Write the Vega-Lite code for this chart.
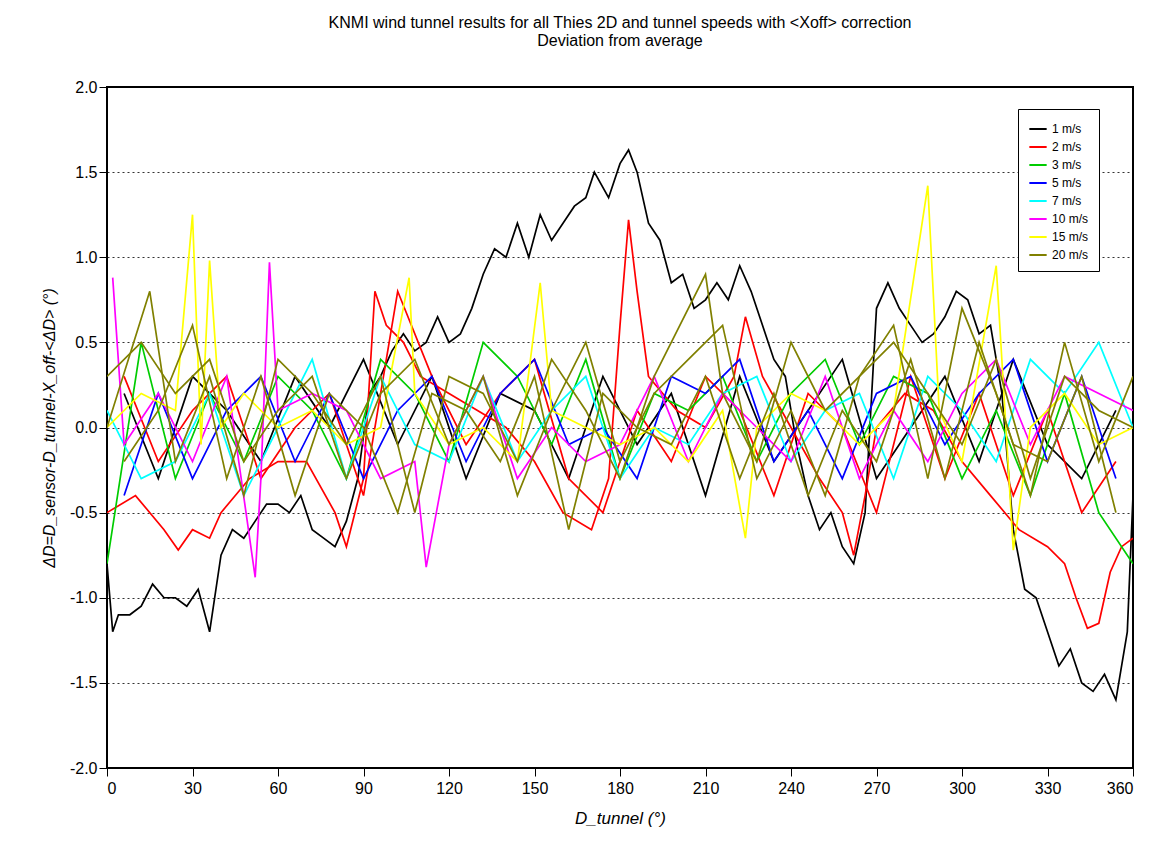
{
"$schema":"https://vega.github.io/schema/vega-lite/v6.json",
"width":1026,"height":681,"autosize":"none",
"padding":{"left":107,"top":87,"right":20,"bottom":91},
"title":{"text":["KNMI wind tunnel results for all Thies 2D and tunnel speeds with <Xoff> correction","Deviation from average"],"font":"Liberation Sans","fontSize":16,"fontWeight":"normal","offset":30},
"data":{"values":[
{"s":"k1","v":"1 m/s","x":0,"y":-0.8},{"s":"k1","v":"1 m/s","x":2,"y":-1.2},{"s":"k1","v":"1 m/s","x":4,"y":-1.1},{"s":"k1","v":"1 m/s","x":8,"y":-1.1},{"s":"k1","v":"1 m/s","x":12,"y":-1.05},{"s":"k1","v":"1 m/s","x":16,"y":-0.92},{"s":"k1","v":"1 m/s","x":20,"y":-1.0},{"s":"k1","v":"1 m/s","x":24,"y":-1.0},{"s":"k1","v":"1 m/s","x":28,"y":-1.05},{"s":"k1","v":"1 m/s","x":32,"y":-0.95},{"s":"k1","v":"1 m/s","x":36,"y":-1.2},{"s":"k1","v":"1 m/s","x":40,"y":-0.75},{"s":"k1","v":"1 m/s","x":44,"y":-0.6},{"s":"k1","v":"1 m/s","x":48,"y":-0.65},{"s":"k1","v":"1 m/s","x":52,"y":-0.55},{"s":"k1","v":"1 m/s","x":56,"y":-0.45},{"s":"k1","v":"1 m/s","x":60,"y":-0.45},{"s":"k1","v":"1 m/s","x":64,"y":-0.5},{"s":"k1","v":"1 m/s","x":68,"y":-0.4},{"s":"k1","v":"1 m/s","x":72,"y":-0.6},{"s":"k1","v":"1 m/s","x":76,"y":-0.65},{"s":"k1","v":"1 m/s","x":80,"y":-0.7},{"s":"k1","v":"1 m/s","x":84,"y":-0.55},{"s":"k1","v":"1 m/s","x":88,"y":-0.3},{"s":"k1","v":"1 m/s","x":92,"y":0.2},{"s":"k1","v":"1 m/s","x":96,"y":0.3},{"s":"k1","v":"1 m/s","x":100,"y":0.45},{"s":"k1","v":"1 m/s","x":104,"y":0.55},{"s":"k1","v":"1 m/s","x":108,"y":0.45},{"s":"k1","v":"1 m/s","x":112,"y":0.5},{"s":"k1","v":"1 m/s","x":116,"y":0.65},{"s":"k1","v":"1 m/s","x":120,"y":0.5},{"s":"k1","v":"1 m/s","x":124,"y":0.55},{"s":"k1","v":"1 m/s","x":128,"y":0.7},{"s":"k1","v":"1 m/s","x":132,"y":0.9},{"s":"k1","v":"1 m/s","x":136,"y":1.05},{"s":"k1","v":"1 m/s","x":140,"y":1.0},{"s":"k1","v":"1 m/s","x":144,"y":1.2},{"s":"k1","v":"1 m/s","x":148,"y":1.0},{"s":"k1","v":"1 m/s","x":152,"y":1.25},{"s":"k1","v":"1 m/s","x":156,"y":1.1},{"s":"k1","v":"1 m/s","x":160,"y":1.2},{"s":"k1","v":"1 m/s","x":164,"y":1.3},{"s":"k1","v":"1 m/s","x":168,"y":1.35},{"s":"k1","v":"1 m/s","x":171,"y":1.5},{"s":"k1","v":"1 m/s","x":176,"y":1.35},{"s":"k1","v":"1 m/s","x":180,"y":1.55},{"s":"k1","v":"1 m/s","x":183,"y":1.63},{"s":"k1","v":"1 m/s","x":186,"y":1.5},{"s":"k1","v":"1 m/s","x":190,"y":1.2},{"s":"k1","v":"1 m/s","x":194,"y":1.1},{"s":"k1","v":"1 m/s","x":198,"y":0.85},{"s":"k1","v":"1 m/s","x":202,"y":0.9},{"s":"k1","v":"1 m/s","x":206,"y":0.7},{"s":"k1","v":"1 m/s","x":210,"y":0.75},{"s":"k1","v":"1 m/s","x":214,"y":0.85},{"s":"k1","v":"1 m/s","x":218,"y":0.75},{"s":"k1","v":"1 m/s","x":222,"y":0.95},{"s":"k1","v":"1 m/s","x":226,"y":0.8},{"s":"k1","v":"1 m/s","x":230,"y":0.6},{"s":"k1","v":"1 m/s","x":234,"y":0.4},{"s":"k1","v":"1 m/s","x":238,"y":0.3},{"s":"k1","v":"1 m/s","x":242,"y":-0.1},{"s":"k1","v":"1 m/s","x":246,"y":-0.4},{"s":"k1","v":"1 m/s","x":250,"y":-0.6},{"s":"k1","v":"1 m/s","x":254,"y":-0.5},{"s":"k1","v":"1 m/s","x":258,"y":-0.7},{"s":"k1","v":"1 m/s","x":262,"y":-0.8},{"s":"k1","v":"1 m/s","x":266,"y":-0.5},{"s":"k1","v":"1 m/s","x":270,"y":0.7},{"s":"k1","v":"1 m/s","x":274,"y":0.85},{"s":"k1","v":"1 m/s","x":278,"y":0.7},{"s":"k1","v":"1 m/s","x":282,"y":0.6},{"s":"k1","v":"1 m/s","x":286,"y":0.5},{"s":"k1","v":"1 m/s","x":290,"y":0.55},{"s":"k1","v":"1 m/s","x":294,"y":0.65},{"s":"k1","v":"1 m/s","x":298,"y":0.8},{"s":"k1","v":"1 m/s","x":302,"y":0.75},{"s":"k1","v":"1 m/s","x":306,"y":0.55},{"s":"k1","v":"1 m/s","x":310,"y":0.6},{"s":"k1","v":"1 m/s","x":314,"y":0.2},{"s":"k1","v":"1 m/s","x":318,"y":-0.6},{"s":"k1","v":"1 m/s","x":322,"y":-0.95},{"s":"k1","v":"1 m/s","x":326,"y":-1.0},{"s":"k1","v":"1 m/s","x":330,"y":-1.2},{"s":"k1","v":"1 m/s","x":334,"y":-1.4},{"s":"k1","v":"1 m/s","x":338,"y":-1.3},{"s":"k1","v":"1 m/s","x":342,"y":-1.5},{"s":"k1","v":"1 m/s","x":346,"y":-1.55},{"s":"k1","v":"1 m/s","x":350,"y":-1.45},{"s":"k1","v":"1 m/s","x":354,"y":-1.6},{"s":"k1","v":"1 m/s","x":358,"y":-1.2},{"s":"k1","v":"1 m/s","x":360,"y":-0.4},
{"s":"k2","v":"1 m/s","x":6,"y":0.2},{"s":"k2","v":"1 m/s","x":18,"y":-0.3},{"s":"k2","v":"1 m/s","x":30,"y":0.3},{"s":"k2","v":"1 m/s","x":42,"y":0.1},{"s":"k2","v":"1 m/s","x":54,"y":-0.2},{"s":"k2","v":"1 m/s","x":66,"y":0.3},{"s":"k2","v":"1 m/s","x":78,"y":0.0},{"s":"k2","v":"1 m/s","x":90,"y":0.4},{"s":"k2","v":"1 m/s","x":102,"y":-0.1},{"s":"k2","v":"1 m/s","x":114,"y":0.3},{"s":"k2","v":"1 m/s","x":126,"y":-0.3},{"s":"k2","v":"1 m/s","x":138,"y":0.2},{"s":"k2","v":"1 m/s","x":150,"y":0.1},{"s":"k2","v":"1 m/s","x":162,"y":-0.3},{"s":"k2","v":"1 m/s","x":174,"y":0.3},{"s":"k2","v":"1 m/s","x":186,"y":-0.1},{"s":"k2","v":"1 m/s","x":198,"y":0.2},{"s":"k2","v":"1 m/s","x":210,"y":-0.4},{"s":"k2","v":"1 m/s","x":222,"y":0.3},{"s":"k2","v":"1 m/s","x":234,"y":-0.2},{"s":"k2","v":"1 m/s","x":246,"y":0.1},{"s":"k2","v":"1 m/s","x":258,"y":0.4},{"s":"k2","v":"1 m/s","x":270,"y":-0.3},{"s":"k2","v":"1 m/s","x":282,"y":0.0},{"s":"k2","v":"1 m/s","x":294,"y":0.3},{"s":"k2","v":"1 m/s","x":306,"y":-0.2},{"s":"k2","v":"1 m/s","x":318,"y":0.4},{"s":"k2","v":"1 m/s","x":330,"y":-0.1},{"s":"k2","v":"1 m/s","x":342,"y":-0.3},{"s":"k2","v":"1 m/s","x":354,"y":0.1},
{"s":"r1","v":"2 m/s","x":0,"y":-0.5},{"s":"r1","v":"2 m/s","x":10,"y":-0.4},{"s":"r1","v":"2 m/s","x":20,"y":-0.6},{"s":"r1","v":"2 m/s","x":25,"y":-0.72},{"s":"r1","v":"2 m/s","x":30,"y":-0.6},{"s":"r1","v":"2 m/s","x":36,"y":-0.65},{"s":"r1","v":"2 m/s","x":40,"y":-0.5},{"s":"r1","v":"2 m/s","x":50,"y":-0.3},{"s":"r1","v":"2 m/s","x":60,"y":-0.2},{"s":"r1","v":"2 m/s","x":70,"y":-0.2},{"s":"r1","v":"2 m/s","x":80,"y":-0.5},{"s":"r1","v":"2 m/s","x":84,"y":-0.7},{"s":"r1","v":"2 m/s","x":90,"y":-0.3},{"s":"r1","v":"2 m/s","x":94,"y":0.8},{"s":"r1","v":"2 m/s","x":98,"y":0.6},{"s":"r1","v":"2 m/s","x":104,"y":0.5},{"s":"r1","v":"2 m/s","x":110,"y":0.3},{"s":"r1","v":"2 m/s","x":120,"y":0.2},{"s":"r1","v":"2 m/s","x":130,"y":0.1},{"s":"r1","v":"2 m/s","x":140,"y":0.0},{"s":"r1","v":"2 m/s","x":150,"y":-0.2},{"s":"r1","v":"2 m/s","x":160,"y":-0.5},{"s":"r1","v":"2 m/s","x":170,"y":-0.6},{"s":"r1","v":"2 m/s","x":176,"y":-0.3},{"s":"r1","v":"2 m/s","x":180,"y":0.6},{"s":"r1","v":"2 m/s","x":183,"y":1.22},{"s":"r1","v":"2 m/s","x":186,"y":0.8},{"s":"r1","v":"2 m/s","x":190,"y":0.3},{"s":"r1","v":"2 m/s","x":200,"y":0.1},{"s":"r1","v":"2 m/s","x":210,"y":0.0},{"s":"r1","v":"2 m/s","x":220,"y":0.3},{"s":"r1","v":"2 m/s","x":224,"y":0.65},{"s":"r1","v":"2 m/s","x":230,"y":0.3},{"s":"r1","v":"2 m/s","x":240,"y":0.0},{"s":"r1","v":"2 m/s","x":250,"y":-0.3},{"s":"r1","v":"2 m/s","x":258,"y":-0.5},{"s":"r1","v":"2 m/s","x":262,"y":-0.75},{"s":"r1","v":"2 m/s","x":266,"y":-0.4},{"s":"r1","v":"2 m/s","x":270,"y":0.0},{"s":"r1","v":"2 m/s","x":280,"y":0.2},{"s":"r1","v":"2 m/s","x":290,"y":0.1},{"s":"r1","v":"2 m/s","x":300,"y":-0.2},{"s":"r1","v":"2 m/s","x":310,"y":-0.4},{"s":"r1","v":"2 m/s","x":320,"y":-0.6},{"s":"r1","v":"2 m/s","x":330,"y":-0.7},{"s":"r1","v":"2 m/s","x":336,"y":-0.8},{"s":"r1","v":"2 m/s","x":340,"y":-1.0},{"s":"r1","v":"2 m/s","x":344,"y":-1.18},{"s":"r1","v":"2 m/s","x":348,"y":-1.15},{"s":"r1","v":"2 m/s","x":352,"y":-0.85},{"s":"r1","v":"2 m/s","x":356,"y":-0.7},{"s":"r1","v":"2 m/s","x":360,"y":-0.65},
{"s":"r2","v":"2 m/s","x":6,"y":0.3},{"s":"r2","v":"2 m/s","x":18,"y":-0.2},{"s":"r2","v":"2 m/s","x":30,"y":0.1},{"s":"r2","v":"2 m/s","x":42,"y":0.3},{"s":"r2","v":"2 m/s","x":54,"y":-0.3},{"s":"r2","v":"2 m/s","x":66,"y":0.0},{"s":"r2","v":"2 m/s","x":78,"y":0.2},{"s":"r2","v":"2 m/s","x":90,"y":-0.4},{"s":"r2","v":"2 m/s","x":102,"y":0.8},{"s":"r2","v":"2 m/s","x":114,"y":0.3},{"s":"r2","v":"2 m/s","x":126,"y":-0.1},{"s":"r2","v":"2 m/s","x":138,"y":0.2},{"s":"r2","v":"2 m/s","x":150,"y":0.4},{"s":"r2","v":"2 m/s","x":162,"y":-0.3},{"s":"r2","v":"2 m/s","x":174,"y":-0.5},{"s":"r2","v":"2 m/s","x":186,"y":0.1},{"s":"r2","v":"2 m/s","x":198,"y":-0.2},{"s":"r2","v":"2 m/s","x":210,"y":0.3},{"s":"r2","v":"2 m/s","x":222,"y":0.1},{"s":"r2","v":"2 m/s","x":234,"y":-0.4},{"s":"r2","v":"2 m/s","x":246,"y":0.2},{"s":"r2","v":"2 m/s","x":258,"y":0.0},{"s":"r2","v":"2 m/s","x":270,"y":-0.5},{"s":"r2","v":"2 m/s","x":282,"y":0.3},{"s":"r2","v":"2 m/s","x":294,"y":-0.3},{"s":"r2","v":"2 m/s","x":306,"y":0.2},{"s":"r2","v":"2 m/s","x":318,"y":-0.4},{"s":"r2","v":"2 m/s","x":330,"y":0.1},{"s":"r2","v":"2 m/s","x":342,"y":-0.5},{"s":"r2","v":"2 m/s","x":354,"y":-0.2},
{"s":"g1","v":"3 m/s","x":0,"y":-0.8},{"s":"g1","v":"3 m/s","x":12,"y":0.5},{"s":"g1","v":"3 m/s","x":24,"y":-0.3},{"s":"g1","v":"3 m/s","x":36,"y":0.2},{"s":"g1","v":"3 m/s","x":48,"y":-0.2},{"s":"g1","v":"3 m/s","x":60,"y":0.3},{"s":"g1","v":"3 m/s","x":72,"y":0.1},{"s":"g1","v":"3 m/s","x":84,"y":-0.3},{"s":"g1","v":"3 m/s","x":96,"y":0.4},{"s":"g1","v":"3 m/s","x":108,"y":0.2},{"s":"g1","v":"3 m/s","x":120,"y":-0.2},{"s":"g1","v":"3 m/s","x":132,"y":0.5},{"s":"g1","v":"3 m/s","x":144,"y":0.3},{"s":"g1","v":"3 m/s","x":156,"y":-0.1},{"s":"g1","v":"3 m/s","x":168,"y":0.4},{"s":"g1","v":"3 m/s","x":180,"y":-0.3},{"s":"g1","v":"3 m/s","x":192,"y":0.2},{"s":"g1","v":"3 m/s","x":204,"y":0.1},{"s":"g1","v":"3 m/s","x":216,"y":0.3},{"s":"g1","v":"3 m/s","x":228,"y":-0.2},{"s":"g1","v":"3 m/s","x":240,"y":0.2},{"s":"g1","v":"3 m/s","x":252,"y":0.4},{"s":"g1","v":"3 m/s","x":264,"y":-0.1},{"s":"g1","v":"3 m/s","x":276,"y":0.3},{"s":"g1","v":"3 m/s","x":288,"y":0.2},{"s":"g1","v":"3 m/s","x":300,"y":-0.3},{"s":"g1","v":"3 m/s","x":312,"y":0.1},{"s":"g1","v":"3 m/s","x":324,"y":-0.4},{"s":"g1","v":"3 m/s","x":336,"y":0.2},{"s":"g1","v":"3 m/s","x":348,"y":-0.5},{"s":"g1","v":"3 m/s","x":360,"y":-0.8},
{"s":"b1","v":"5 m/s","x":6,"y":-0.4},{"s":"b1","v":"5 m/s","x":18,"y":0.2},{"s":"b1","v":"5 m/s","x":30,"y":-0.3},{"s":"b1","v":"5 m/s","x":42,"y":0.1},{"s":"b1","v":"5 m/s","x":54,"y":0.3},{"s":"b1","v":"5 m/s","x":66,"y":-0.2},{"s":"b1","v":"5 m/s","x":78,"y":0.2},{"s":"b1","v":"5 m/s","x":90,"y":-0.3},{"s":"b1","v":"5 m/s","x":102,"y":0.1},{"s":"b1","v":"5 m/s","x":114,"y":0.3},{"s":"b1","v":"5 m/s","x":126,"y":-0.2},{"s":"b1","v":"5 m/s","x":138,"y":0.2},{"s":"b1","v":"5 m/s","x":150,"y":0.4},{"s":"b1","v":"5 m/s","x":162,"y":-0.1},{"s":"b1","v":"5 m/s","x":174,"y":0.0},{"s":"b1","v":"5 m/s","x":186,"y":-0.3},{"s":"b1","v":"5 m/s","x":198,"y":0.3},{"s":"b1","v":"5 m/s","x":210,"y":0.2},{"s":"b1","v":"5 m/s","x":222,"y":0.4},{"s":"b1","v":"5 m/s","x":234,"y":-0.2},{"s":"b1","v":"5 m/s","x":246,"y":0.1},{"s":"b1","v":"5 m/s","x":258,"y":-0.3},{"s":"b1","v":"5 m/s","x":270,"y":0.2},{"s":"b1","v":"5 m/s","x":282,"y":0.3},{"s":"b1","v":"5 m/s","x":294,"y":-0.1},{"s":"b1","v":"5 m/s","x":306,"y":0.2},{"s":"b1","v":"5 m/s","x":318,"y":0.4},{"s":"b1","v":"5 m/s","x":330,"y":-0.2},{"s":"b1","v":"5 m/s","x":342,"y":0.3},{"s":"b1","v":"5 m/s","x":354,"y":-0.3},
{"s":"c1","v":"7 m/s","x":0,"y":0.1},{"s":"c1","v":"7 m/s","x":12,"y":-0.3},{"s":"c1","v":"7 m/s","x":24,"y":-0.2},{"s":"c1","v":"7 m/s","x":36,"y":0.2},{"s":"c1","v":"7 m/s","x":48,"y":-0.4},{"s":"c1","v":"7 m/s","x":60,"y":0.0},{"s":"c1","v":"7 m/s","x":72,"y":0.4},{"s":"c1","v":"7 m/s","x":84,"y":-0.3},{"s":"c1","v":"7 m/s","x":96,"y":0.3},{"s":"c1","v":"7 m/s","x":108,"y":-0.1},{"s":"c1","v":"7 m/s","x":120,"y":-0.2},{"s":"c1","v":"7 m/s","x":132,"y":0.3},{"s":"c1","v":"7 m/s","x":144,"y":-0.2},{"s":"c1","v":"7 m/s","x":156,"y":0.1},{"s":"c1","v":"7 m/s","x":168,"y":0.3},{"s":"c1","v":"7 m/s","x":180,"y":-0.3},{"s":"c1","v":"7 m/s","x":192,"y":0.0},{"s":"c1","v":"7 m/s","x":204,"y":-0.1},{"s":"c1","v":"7 m/s","x":216,"y":0.2},{"s":"c1","v":"7 m/s","x":228,"y":0.3},{"s":"c1","v":"7 m/s","x":240,"y":-0.2},{"s":"c1","v":"7 m/s","x":252,"y":0.1},{"s":"c1","v":"7 m/s","x":264,"y":0.2},{"s":"c1","v":"7 m/s","x":276,"y":-0.3},{"s":"c1","v":"7 m/s","x":288,"y":0.3},{"s":"c1","v":"7 m/s","x":300,"y":0.1},{"s":"c1","v":"7 m/s","x":312,"y":-0.2},{"s":"c1","v":"7 m/s","x":324,"y":0.4},{"s":"c1","v":"7 m/s","x":336,"y":0.2},{"s":"c1","v":"7 m/s","x":348,"y":0.5},{"s":"c1","v":"7 m/s","x":360,"y":0.0},
{"s":"m1","v":"10 m/s","x":2,"y":0.88},{"s":"m1","v":"10 m/s","x":6,"y":-0.1},{"s":"m1","v":"10 m/s","x":18,"y":0.2},{"s":"m1","v":"10 m/s","x":30,"y":-0.2},{"s":"m1","v":"10 m/s","x":42,"y":0.3},{"s":"m1","v":"10 m/s","x":52,"y":-0.88},{"s":"m1","v":"10 m/s","x":54,"y":-0.3},{"s":"m1","v":"10 m/s","x":57,"y":0.97},{"s":"m1","v":"10 m/s","x":60,"y":0.1},{"s":"m1","v":"10 m/s","x":72,"y":0.2},{"s":"m1","v":"10 m/s","x":84,"y":0.1},{"s":"m1","v":"10 m/s","x":96,"y":-0.3},{"s":"m1","v":"10 m/s","x":108,"y":-0.2},{"s":"m1","v":"10 m/s","x":112,"y":-0.82},{"s":"m1","v":"10 m/s","x":120,"y":-0.1},{"s":"m1","v":"10 m/s","x":132,"y":0.3},{"s":"m1","v":"10 m/s","x":144,"y":-0.3},{"s":"m1","v":"10 m/s","x":156,"y":0.0},{"s":"m1","v":"10 m/s","x":168,"y":-0.2},{"s":"m1","v":"10 m/s","x":180,"y":-0.1},{"s":"m1","v":"10 m/s","x":192,"y":0.3},{"s":"m1","v":"10 m/s","x":204,"y":-0.2},{"s":"m1","v":"10 m/s","x":216,"y":0.2},{"s":"m1","v":"10 m/s","x":228,"y":0.0},{"s":"m1","v":"10 m/s","x":240,"y":-0.2},{"s":"m1","v":"10 m/s","x":252,"y":0.3},{"s":"m1","v":"10 m/s","x":264,"y":-0.3},{"s":"m1","v":"10 m/s","x":276,"y":0.1},{"s":"m1","v":"10 m/s","x":288,"y":-0.2},{"s":"m1","v":"10 m/s","x":300,"y":0.2},{"s":"m1","v":"10 m/s","x":312,"y":0.4},{"s":"m1","v":"10 m/s","x":324,"y":-0.1},{"s":"m1","v":"10 m/s","x":336,"y":0.3},{"s":"m1","v":"10 m/s","x":348,"y":0.2},{"s":"m1","v":"10 m/s","x":360,"y":0.1},
{"s":"y1","v":"15 m/s","x":0,"y":0.0},{"s":"y1","v":"15 m/s","x":12,"y":0.2},{"s":"y1","v":"15 m/s","x":24,"y":0.1},{"s":"y1","v":"15 m/s","x":30,"y":1.25},{"s":"y1","v":"15 m/s","x":33,"y":-0.1},{"s":"y1","v":"15 m/s","x":36,"y":0.98},{"s":"y1","v":"15 m/s","x":40,"y":0.0},{"s":"y1","v":"15 m/s","x":48,"y":0.2},{"s":"y1","v":"15 m/s","x":60,"y":0.0},{"s":"y1","v":"15 m/s","x":72,"y":0.1},{"s":"y1","v":"15 m/s","x":84,"y":-0.1},{"s":"y1","v":"15 m/s","x":96,"y":0.0},{"s":"y1","v":"15 m/s","x":106,"y":0.88},{"s":"y1","v":"15 m/s","x":108,"y":0.2},{"s":"y1","v":"15 m/s","x":120,"y":-0.1},{"s":"y1","v":"15 m/s","x":132,"y":0.0},{"s":"y1","v":"15 m/s","x":144,"y":-0.2},{"s":"y1","v":"15 m/s","x":152,"y":0.85},{"s":"y1","v":"15 m/s","x":156,"y":0.1},{"s":"y1","v":"15 m/s","x":168,"y":0.0},{"s":"y1","v":"15 m/s","x":180,"y":-0.1},{"s":"y1","v":"15 m/s","x":192,"y":0.0},{"s":"y1","v":"15 m/s","x":204,"y":-0.2},{"s":"y1","v":"15 m/s","x":216,"y":0.1},{"s":"y1","v":"15 m/s","x":224,"y":-0.65},{"s":"y1","v":"15 m/s","x":228,"y":0.0},{"s":"y1","v":"15 m/s","x":240,"y":0.2},{"s":"y1","v":"15 m/s","x":252,"y":0.1},{"s":"y1","v":"15 m/s","x":264,"y":-0.1},{"s":"y1","v":"15 m/s","x":276,"y":0.1},{"s":"y1","v":"15 m/s","x":288,"y":1.42},{"s":"y1","v":"15 m/s","x":292,"y":0.1},{"s":"y1","v":"15 m/s","x":300,"y":-0.2},{"s":"y1","v":"15 m/s","x":312,"y":0.95},{"s":"y1","v":"15 m/s","x":318,"y":-0.72},{"s":"y1","v":"15 m/s","x":324,"y":0.0},{"s":"y1","v":"15 m/s","x":336,"y":0.2},{"s":"y1","v":"15 m/s","x":348,"y":-0.1},{"s":"y1","v":"15 m/s","x":360,"y":0.0},
{"s":"o1","v":"20 m/s","x":0,"y":0.3},{"s":"o1","v":"20 m/s","x":12,"y":0.5},{"s":"o1","v":"20 m/s","x":24,"y":0.2},{"s":"o1","v":"20 m/s","x":36,"y":0.4},{"s":"o1","v":"20 m/s","x":48,"y":-0.2},{"s":"o1","v":"20 m/s","x":60,"y":0.1},{"s":"o1","v":"20 m/s","x":72,"y":0.3},{"s":"o1","v":"20 m/s","x":84,"y":-0.3},{"s":"o1","v":"20 m/s","x":96,"y":0.2},{"s":"o1","v":"20 m/s","x":108,"y":0.4},{"s":"o1","v":"20 m/s","x":120,"y":-0.1},{"s":"o1","v":"20 m/s","x":132,"y":0.3},{"s":"o1","v":"20 m/s","x":144,"y":-0.4},{"s":"o1","v":"20 m/s","x":156,"y":0.1},{"s":"o1","v":"20 m/s","x":168,"y":0.5},{"s":"o1","v":"20 m/s","x":180,"y":-0.2},{"s":"o1","v":"20 m/s","x":192,"y":0.2},{"s":"o1","v":"20 m/s","x":204,"y":0.4},{"s":"o1","v":"20 m/s","x":216,"y":0.6},{"s":"o1","v":"20 m/s","x":228,"y":-0.3},{"s":"o1","v":"20 m/s","x":240,"y":0.1},{"s":"o1","v":"20 m/s","x":252,"y":-0.4},{"s":"o1","v":"20 m/s","x":264,"y":0.3},{"s":"o1","v":"20 m/s","x":276,"y":0.5},{"s":"o1","v":"20 m/s","x":288,"y":0.2},{"s":"o1","v":"20 m/s","x":300,"y":-0.1},{"s":"o1","v":"20 m/s","x":312,"y":0.4},{"s":"o1","v":"20 m/s","x":324,"y":-0.3},{"s":"o1","v":"20 m/s","x":336,"y":0.3},{"s":"o1","v":"20 m/s","x":348,"y":0.1},{"s":"o1","v":"20 m/s","x":360,"y":0.0},
{"s":"o2","v":"20 m/s","x":6,"y":-0.2},{"s":"o2","v":"20 m/s","x":18,"y":0.1},{"s":"o2","v":"20 m/s","x":30,"y":0.6},{"s":"o2","v":"20 m/s","x":42,"y":-0.3},{"s":"o2","v":"20 m/s","x":54,"y":0.3},{"s":"o2","v":"20 m/s","x":66,"y":-0.4},{"s":"o2","v":"20 m/s","x":78,"y":0.2},{"s":"o2","v":"20 m/s","x":90,"y":0.0},{"s":"o2","v":"20 m/s","x":102,"y":-0.5},{"s":"o2","v":"20 m/s","x":114,"y":0.2},{"s":"o2","v":"20 m/s","x":126,"y":0.1},{"s":"o2","v":"20 m/s","x":138,"y":-0.2},{"s":"o2","v":"20 m/s","x":150,"y":0.3},{"s":"o2","v":"20 m/s","x":162,"y":-0.6},{"s":"o2","v":"20 m/s","x":174,"y":0.2},{"s":"o2","v":"20 m/s","x":186,"y":0.0},{"s":"o2","v":"20 m/s","x":198,"y":-0.1},{"s":"o2","v":"20 m/s","x":210,"y":0.3},{"s":"o2","v":"20 m/s","x":222,"y":-0.3},{"s":"o2","v":"20 m/s","x":234,"y":0.2},{"s":"o2","v":"20 m/s","x":246,"y":-0.4},{"s":"o2","v":"20 m/s","x":258,"y":0.1},{"s":"o2","v":"20 m/s","x":270,"y":-0.2},{"s":"o2","v":"20 m/s","x":282,"y":0.4},{"s":"o2","v":"20 m/s","x":294,"y":-0.3},{"s":"o2","v":"20 m/s","x":306,"y":0.5},{"s":"o2","v":"20 m/s","x":318,"y":-0.1},{"s":"o2","v":"20 m/s","x":330,"y":-0.2},{"s":"o2","v":"20 m/s","x":342,"y":0.3},{"s":"o2","v":"20 m/s","x":354,"y":-0.5},
{"s":"o3","v":"20 m/s","x":0,"y":0.0},{"s":"o3","v":"20 m/s","x":15,"y":0.8},{"s":"o3","v":"20 m/s","x":24,"y":-0.2},{"s":"o3","v":"20 m/s","x":36,"y":0.3},{"s":"o3","v":"20 m/s","x":48,"y":-0.4},{"s":"o3","v":"20 m/s","x":60,"y":0.4},{"s":"o3","v":"20 m/s","x":72,"y":0.2},{"s":"o3","v":"20 m/s","x":84,"y":-0.1},{"s":"o3","v":"20 m/s","x":96,"y":0.3},{"s":"o3","v":"20 m/s","x":108,"y":-0.5},{"s":"o3","v":"20 m/s","x":120,"y":0.3},{"s":"o3","v":"20 m/s","x":132,"y":0.2},{"s":"o3","v":"20 m/s","x":144,"y":-0.2},{"s":"o3","v":"20 m/s","x":156,"y":0.4},{"s":"o3","v":"20 m/s","x":168,"y":0.1},{"s":"o3","v":"20 m/s","x":180,"y":-0.3},{"s":"o3","v":"20 m/s","x":192,"y":0.3},{"s":"o3","v":"20 m/s","x":210,"y":0.9},{"s":"o3","v":"20 m/s","x":216,"y":0.2},{"s":"o3","v":"20 m/s","x":228,"y":-0.2},{"s":"o3","v":"20 m/s","x":240,"y":0.5},{"s":"o3","v":"20 m/s","x":252,"y":0.1},{"s":"o3","v":"20 m/s","x":264,"y":0.3},{"s":"o3","v":"20 m/s","x":276,"y":0.6},{"s":"o3","v":"20 m/s","x":288,"y":-0.3},{"s":"o3","v":"20 m/s","x":300,"y":0.7},{"s":"o3","v":"20 m/s","x":312,"y":0.2},{"s":"o3","v":"20 m/s","x":324,"y":-0.4},{"s":"o3","v":"20 m/s","x":336,"y":0.5},{"s":"o3","v":"20 m/s","x":348,"y":-0.2},{"s":"o3","v":"20 m/s","x":360,"y":0.3}
]},
"mark":{"type":"line","strokeWidth":1.7,"clip":true},
"encoding":{
"x":{"field":"x","type":"quantitative","scale":{"domain":[0,360],"nice":false},
"axis":{"values":[0,30,60,90,120,150,180,210,240,270,300,330,360],"grid":false,"title":"D_tunnel   (°)","titleFont":"Liberation Sans","titleFontSize":17,"titleFontWeight":"normal","titleFontStyle":"italic","labelFont":"Liberation Sans","labelFontSize":16,"tickColor":"black","domainColor":"black","labelColor":"black","tickSize":8,"labelPadding":4,"titlePadding":14}},
"y":{"field":"y","type":"quantitative","scale":{"domain":[-2,2],"nice":false},
"axis":{"values":[-2,-1.5,-1,-0.5,0,0.5,1,1.5,2],"labelExpr":"datum.value < 0 ? '-' + format(-datum.value, '.1f') : format(datum.value, '.1f')","grid":true,"gridDash":[2,3],"gridColor":"black","gridOpacity":0.8,"title":"ΔD=D_sensor-D_tunnel-X_off-<ΔD>   (°)","titleFont":"Liberation Sans","titleFontSize":16,"titleFontWeight":"normal","titleFontStyle":"italic","labelFont":"Liberation Sans","labelFontSize":16,"tickColor":"black","domainColor":"black","labelColor":"black","tickSize":8,"titlePadding":12}},
"color":{"field":"v","type":"nominal","sort":["1 m/s","2 m/s","3 m/s","5 m/s","7 m/s","10 m/s","15 m/s","20 m/s"],
"scale":{"domain":["1 m/s","2 m/s","3 m/s","5 m/s","7 m/s","10 m/s","15 m/s","20 m/s"],"range":["#000000","#ff0000","#00cc00","#0000ff","#00ffff","#ff00ff","#ffff00","#808000"]},
"legend":{"orient":"none","legendX":911,"legendY":22,"title":null,"symbolType":"stroke","symbolSize":300,"symbolStrokeWidth":2,"labelFont":"Liberation Sans","labelFontSize":12,"strokeColor":"black","fillColor":"white","padding":10,"rowPadding":2}},
"detail":{"field":"s"}
},
"config":{"view":{"stroke":"black","strokeWidth":2},"background":"white"}
}
